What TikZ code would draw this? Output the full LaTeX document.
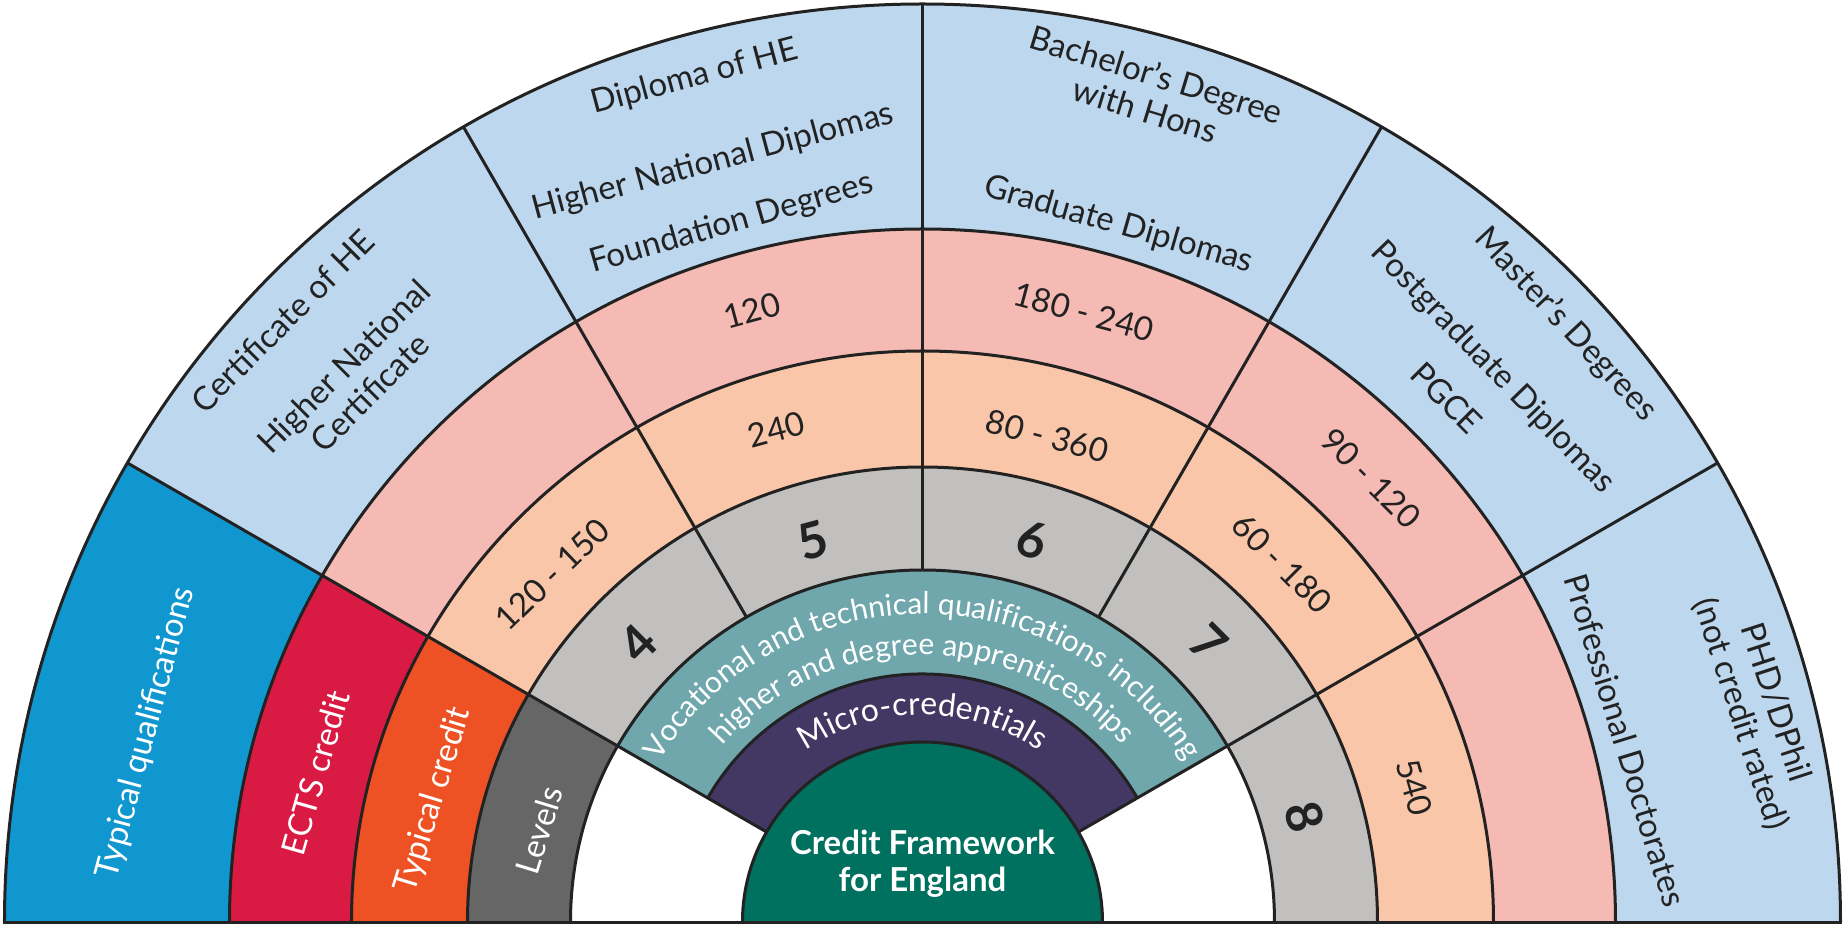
\documentclass[tikz,border=0pt]{standalone}
\usepackage{fontspec}
\setmainfont{Lato}
\usetikzlibrary{decorations.text}
\definecolor{lblue}{HTML}{BDD7EE}
\definecolor{pinkc}{HTML}{F4BAB3}
\definecolor{peach}{HTML}{F9C6A9}
\definecolor{lgray}{HTML}{C1C0BF}
\definecolor{dgray}{HTML}{666666}
\definecolor{sblue}{HTML}{1197CF}
\definecolor{sred}{HTML}{D91B43}
\definecolor{sorange}{HTML}{EE5123}
\definecolor{tealc}{HTML}{6FA7AD}
\definecolor{purp}{HTML}{433764}
\definecolor{grn}{HTML}{00705F}
\definecolor{ink}{HTML}{222222}
\newcommand\ringsector[5]{%
  \fill[#1] (#2:#4) arc[start angle=#2, end angle=#3, radius=#4] -- (#3:#5) arc[start angle=#3, end angle=#2, radius=#5] -- cycle;}
\begin{document}
\begin{tikzpicture}[x=1pt,y=1pt,
  ln/.style={draw=ink, line width=3pt},
  lbl/.style={font=\fontsize{33}{37}\selectfont, text=ink, inner sep=0pt, align=center},
  wlbl/.style={lbl, text=white},
  num/.style={font=\bfseries\fontsize{50}{50}\selectfont, text=ink, inner sep=0pt}]
\useasboundingbox (-922.5,-2) rectangle (922.5,922);
% fills
\ringsector{lblue}{0}{150}{693}{918}
\ringsector{sblue}{150}{180}{693}{918}
\ringsector{pinkc}{0}{150}{571}{693}
\ringsector{sred}{150}{180}{571}{693}
\ringsector{peach}{0}{150}{455}{571}
\ringsector{sorange}{150}{180}{455}{571}
\ringsector{lgray}{0}{150}{352}{455}
\ringsector{dgray}{150}{180}{352}{455}
\ringsector{tealc}{30}{150}{248}{352}
\ringsector{purp}{30}{150}{180}{248}
\fill[grn] (0:180) arc[start angle=0, end angle=180, radius=180] -- cycle;
% lines
\foreach \r in {918,693,571,455,352,180}
  \draw[ln] (0:\r) arc[start angle=0, end angle=180, radius=\r];
\draw[ln] (30:248) arc[start angle=30, end angle=150, radius=248];
\draw[ln] (150:180) -- (150:918);
\draw[ln] (30:180) -- (30:918);
\foreach \a in {60,90,120}
  \draw[ln] (\a:352) -- (\a:918);
\draw[ln] (-919.5,0) -- (919.5,0);
% curved texts
\path[decorate, decoration={text along path, text align=center,
  text={|\fontsize{30}{30}\selectfont\color{white}|Vocational and technical qualifications including}}]
  (150:308) arc[start angle=150, end angle=30, radius=308];
\path[decorate, decoration={text along path, text align=center,
  text={|\fontsize{30}{30}\selectfont\color{white}|higher and degree apprenticeships}}]
  (150:267) arc[start angle=150, end angle=30, radius=267];
\path[decorate, decoration={text along path, text align=center,
  text={|\fontsize{32}{32}\selectfont\color{white}|Micro-credentials}}]
  (150:207) arc[start angle=150, end angle=30, radius=207];
% centre
\node[font=\bfseries\fontsize{33}{37}\selectfont, text=white, align=center, inner sep=0pt] (cfe) at (0,58) {Credit Framework\\for England};
% left label column
\node[wlbl, rotate=75] (tq) at (166.3:799) {Typical qualifications};
\node[wlbl, rotate=74] (ects) at (166.2:625) {ECTS credit};
\node[wlbl, rotate=73] (tc) at (166:504) {Typical credit};
\node[wlbl, rotate=73] (lev) at (166.5:394) {Levels};
% level numbers
\node[num, rotate=45] (l4) at (135.6:398) {4};
\node[num, rotate=15] (l5) at (106:397) {5};
\node[num, rotate=-15] (l6) at (74:397) {6};
\node[num, rotate=-45] (l7) at (44.3:400) {7};
\node[num, rotate=-75] (l8) at (15.4:396) {8};
% level 4
\node[lbl, rotate=44] (c4) at (136.8:508) {120 - 150};
\node[lbl, rotate=45] (q4a) at (136.8:878) {Certificate of HE};
\node[lbl, rotate=45] (q4b) at (136.2:784) {Higher National\\Certificate};
% level 5
\node[lbl, rotate=15] (c5) at (106.5:514) {240};
\node[lbl, rotate=15] (e5) at (105.6:635) {120};
\node[lbl, rotate=15] (q5a) at (105.1:875) {Diploma of HE};
\node[lbl, rotate=15] (q5b) at (105.4:788) {Higher National Diplomas};
\node[lbl, rotate=16] (q5c) at (105.3:724) {Foundation Degrees};
% level 6
\node[lbl, rotate=-15] (c6) at (75.6:502) {80 - 360};
\node[lbl, rotate=-15] (e6) at (75.2:631) {180 - 240};
\node[lbl, rotate=-17] (q6a) at (74.6:861) {Bachelor’s Degree\\with Hons};
\node[lbl, rotate=-16] (q6b) at (74.3:724) {Graduate Diplomas};
% level 7
\node[lbl, rotate=-45] (c7) at (44.9:508) {60 - 180};
\node[lbl, rotate=-45] (e7) at (44.7:631) {90 - 120};
\node[lbl, rotate=-47] (q7a) at (42.9:878) {Master’s Degrees};
\node[lbl, rotate=-46] (q7b) at (44.2:795) {Postgraduate Diplomas};
\node[lbl, rotate=-45] (q7c) at (45:741) {PGCE};
% level 8
\node[lbl, rotate=-74] (c8) at (15.3:510) {540};
\node[lbl, rotate=-73] (q8a) at (14.5:726) {Professional Doctorates};
\node[lbl, rotate=-72] (q8b) at (14.35:862) {PHD/DPhil\\(not credit rated)};
\end{tikzpicture}
\end{document}
